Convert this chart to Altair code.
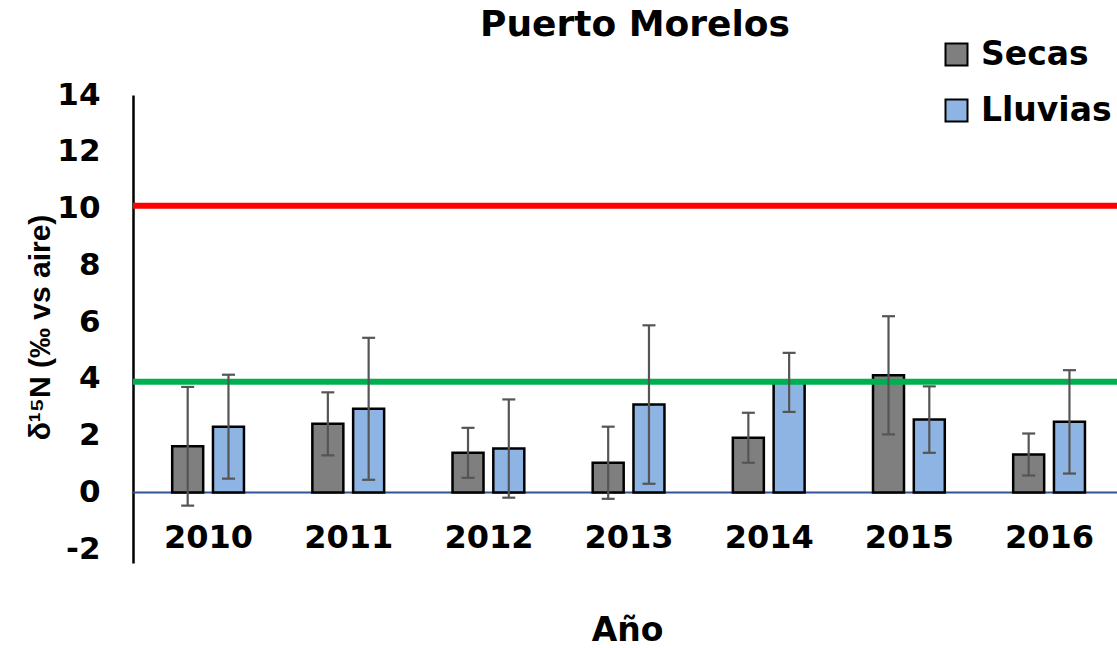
import altair as alt
import pandas as pd

# δ15N per year and season (mean and standard deviation)
years = [2010, 2011, 2012, 2013, 2014, 2015, 2016]
secas = [1.63, 2.42, 1.40, 1.05, 1.93, 4.13, 1.34]
secas_err = [2.09, 1.11, 0.88, 1.27, 0.88, 2.08, 0.74]
lluvias = [2.32, 2.95, 1.55, 3.10, 3.88, 2.57, 2.49]
lluvias_err = [1.83, 2.50, 1.73, 2.79, 1.04, 1.17, 1.82]

seasons = ["Secas", "Lluvias"]
season_colors = ["#7F7F7F", "#8DB4E2"]

# reference levels
level_red = 10.1
level_green = 3.9
y_ticks = [-2, 0, 2, 4, 6, 8, 10, 12, 14]

FONT = "DejaVu Sans"
NARROW = "Liberation Sans"

rows = []
for i, yr in enumerate(years):
    rows.append({"year": yr, "season": "Secas", "value": secas[i], "err": secas_err[i]})
    rows.append({"year": yr, "season": "Lluvias", "value": lluvias[i], "err": lluvias_err[i]})
df = pd.DataFrame(rows)
df["lo"] = df["value"] - df["err"]
df["hi"] = df["value"] + df["err"]
# side-by-side placement of the two seasons inside each year group
shift = {"Secas": -0.1455, "Lluvias": 0.1455}
df["pos"] = df["year"] + df["season"].map(shift)

x_scale = alt.Scale(domain=[2009.5, 2016.449], nice=False, zero=False)
y_scale = alt.Scale(domain=[-2.48, 14], nice=False, zero=False)

x_axis = alt.Axis(
    values=years, format="d", domain=False, ticks=False, tickSize=0, grid=False,
    labelPadding=-26, labelBaseline="middle", labelFontSize=32, labelFont=FONT,
    labelFontWeight="bold", labelColor="black", labelFlush=False, labelOverlap=False,
    title="Año", titleFont=FONT, titleFontSize=33, titleFontWeight="bold", titleColor="black",
    titleX=494, titleY=67, titleAlign="center", titleBaseline="middle",
)
y_axis = alt.Axis(
    values=y_ticks, domain=True, domainColor="black", domainWidth=2.5,
    ticks=False, tickSize=0, grid=False,
    labelExpr="'' + datum.value",
    labelPadding=33, labelFontSize=31, labelFont=FONT, labelFontWeight="bold",
    labelColor="black", labelFlush=False, labelOverlap=False,
    title="δ¹⁵N (‰ vs aire)", titleFont=NARROW, titleFontSize=30, titleFontWeight="bold",
    titleColor="black", titleAngle=270, titleX=-93, titleY=232,
    titleAlign="center", titleBaseline="middle",
)

base = alt.Chart(df)

bars = base.mark_bar(size=31, stroke="black", strokeWidth=2.5).encode(
    x=alt.X("pos:Q", scale=x_scale, axis=x_axis),
    y=alt.Y("value:Q", scale=y_scale, axis=y_axis),
    color=alt.Color(
        "season:N",
        scale=alt.Scale(domain=seasons, range=season_colors),
        legend=alt.Legend(
            orient="none", legendX=807, legendY=-57, title=None, direction="vertical",
            symbolType="square", symbolSize=484, symbolStrokeColor="black",
            symbolStrokeWidth=2, symbolOpacity=1,
            labelFont=FONT, labelFontSize=33, labelFontWeight="bold", labelColor="black",
            labelOffset=8, rowPadding=22,
        ),
    ),
)

err_color = "#555555"
err_lines = base.mark_rule(color=err_color, strokeWidth=2.2).encode(
    x="pos:Q", y="lo:Q", y2="hi:Q"
)
err_top = base.mark_rule(color=err_color, strokeWidth=2.2, xOffset=-6.5, x2Offset=6.5).encode(
    x="pos:Q", x2="pos:Q", y="hi:Q"
)
err_bottom = base.mark_rule(color=err_color, strokeWidth=2.2, xOffset=-6.5, x2Offset=6.5).encode(
    x="pos:Q", x2="pos:Q", y="lo:Q"
)

zero_line = alt.Chart(pd.DataFrame({"v": [0]})).mark_rule(
    color="#2F5597", strokeWidth=2
).encode(y="v:Q")
green_line = alt.Chart(pd.DataFrame({"v": [level_green]})).mark_rule(
    color="#00B050", strokeWidth=6
).encode(y="v:Q")
red_line = alt.Chart(pd.DataFrame({"v": [level_red]})).mark_rule(
    color="#FF0000", strokeWidth=6
).encode(y="v:Q")

chart = alt.layer(
    zero_line, bars, green_line, red_line, err_lines, err_top, err_bottom
).properties(
    width=984,
    height=468,
    autosize=alt.AutoSizeParams(type="none"),
    padding={"left": 133, "top": 95, "right": 0, "bottom": 85},
    background="white",
    title=alt.TitleParams(
        "Puerto Morelos", font=FONT, fontSize=36, fontWeight="bold", color="black",
        anchor="middle", frame="group", baseline="alphabetic", dx=10, offset=-34,
    ),
).configure_view(strokeWidth=0)

chart.save("out.html", embed_options={"renderer": "svg", "actions": False})
